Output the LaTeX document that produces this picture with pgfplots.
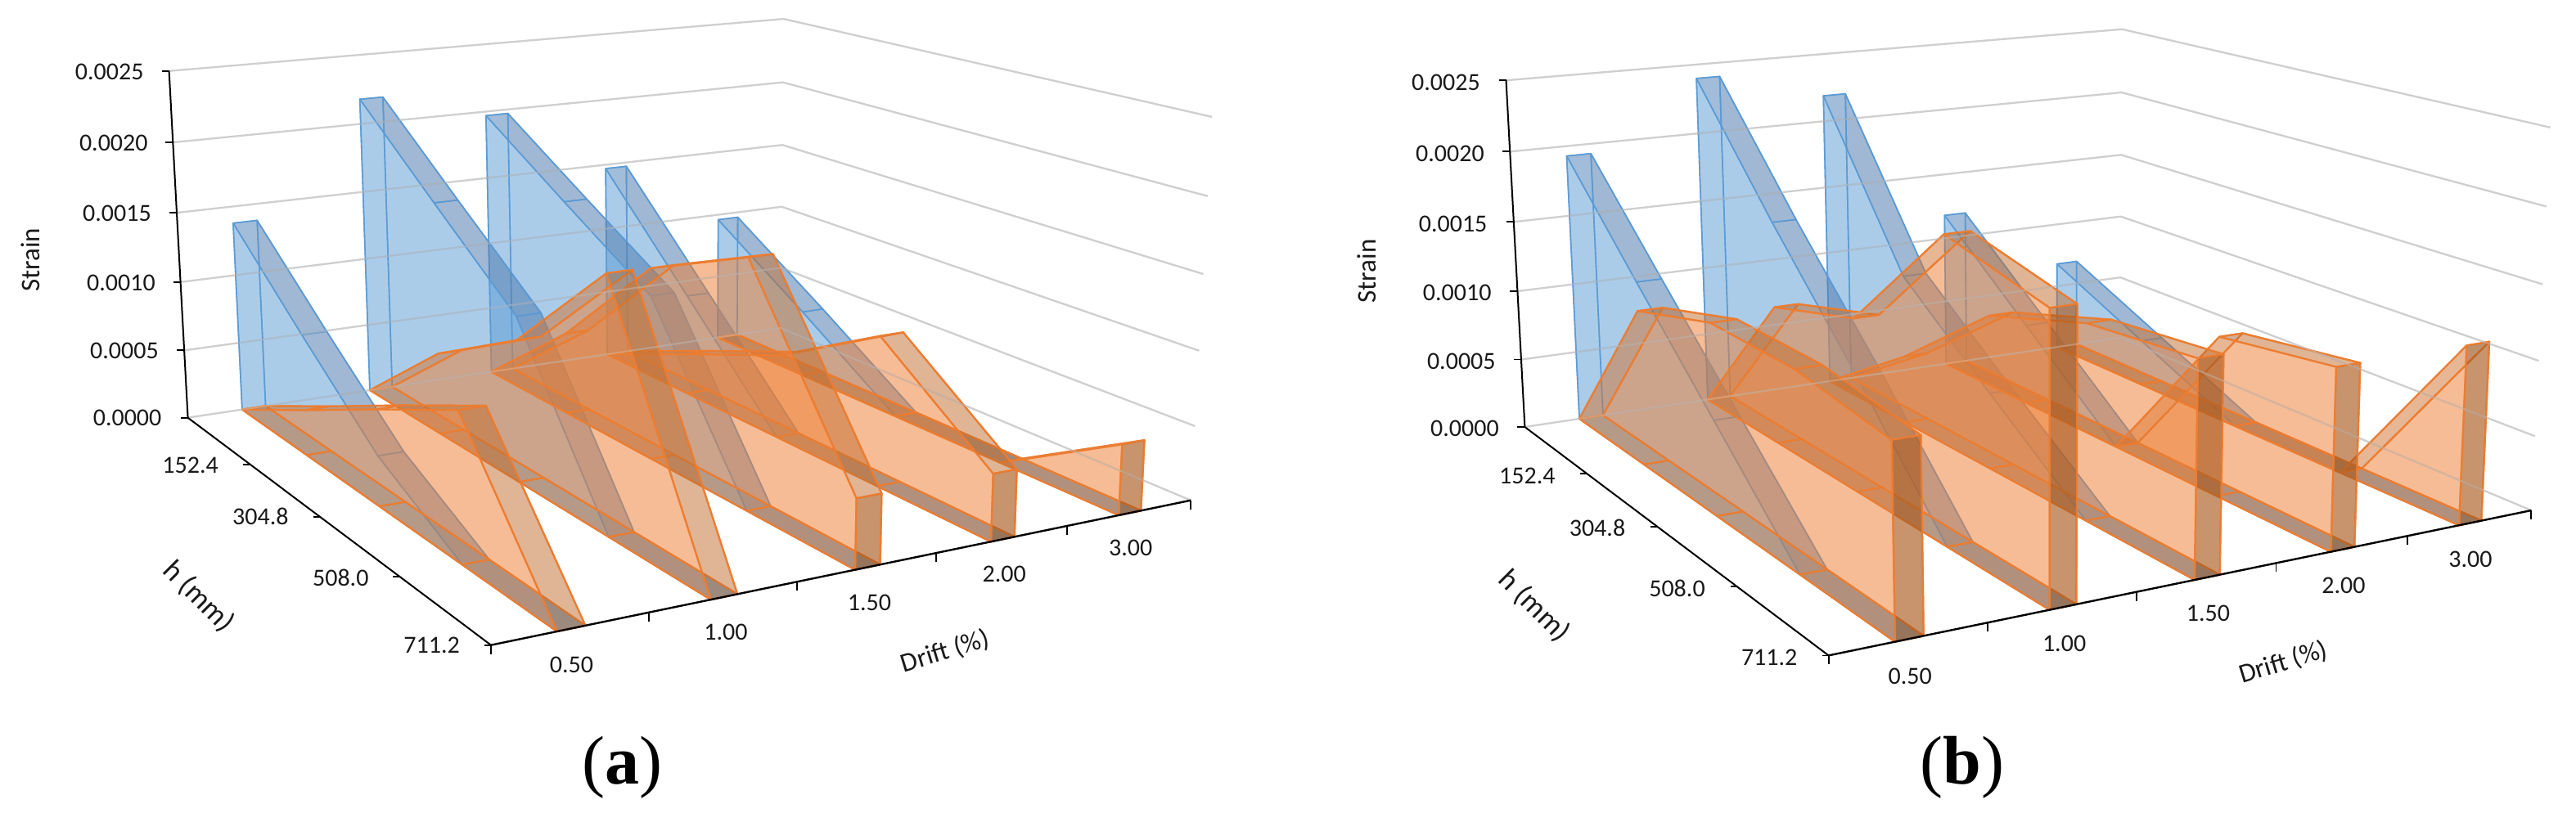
\documentclass[border=0pt]{standalone}
\usepackage{pgfplots}
\pgfplotsset{compat=1.18}
\usepackage{fontspec}
\setmainfont{Carlito}
\newfontfamily\capfont{Liberation Serif}
\definecolor{bl}{HTML}{5B9BD5}
\definecolor{or}{HTML}{ED7D31}
\definecolor{gl}{HTML}{D9D9D9}
\tikzset{
 blu/.style={draw=bl,draw opacity=.9,line width=.8pt,line join=round},
 org/.style={draw=or,draw opacity=.88,line width=1.1pt,line join=round},
 bface/.style={blu,fill=bl,fill opacity=.3},
 btop/.style={blu,fill={rgb,255:red,75;green,108;blue,154},fill opacity=.35},
 bbot/.style={blu,fill={rgb,255:red,110;green,125;blue,140},fill opacity=.35},
 bcap/.style={blu,fill={rgb,255:red,65;green,113;blue,169},fill opacity=.5},
 oface/.style={org,fill=or,fill opacity=.3},
 otop/.style={org,fill={rgb,255:red,167;green,102;blue,48},fill opacity=.3},
 obot/.style={org,fill={rgb,255:red,140;green,120;blue,100},fill opacity=.35},
 ocap/.style={org,fill={rgb,255:red,151;green,81;blue,26},fill opacity=.5},
 lab/.style={font=\fontsize{15}{18}\selectfont,text=black!90,inner sep=0pt},
 ttl/.style={font=\fontsize{16.5}{18}\selectfont,text=black!90,inner sep=0pt},
 ttlh/.style={font=\fontsize{18}{20}\selectfont,text=black!90,inner sep=0pt},
 captxt/.style={font=\capfont\fontsize{42}{46}\selectfont,text=black,inner sep=0pt},
}
% u: position along Drift (0..1), v: along h (0..1), s: strain. The projection is the chart's perspective.
\def\PX{(\Pa*\thisrow{u}+\Pb*\thisrow{v}+\Pc+\Pp*\thisrow{s}/0.0025)/(\Pg*\thisrow{u}+\Ph*\thisrow{v}+1+\Pr*\thisrow{s}/0.0025)}
\def\PY{(\Pd*\thisrow{u}+\Pe*\thisrow{v}+\Pf+\Pq*\thisrow{s}/0.0025)/(\Pg*\thisrow{u}+\Ph*\thisrow{v}+1+\Pr*\thisrow{s}/0.0025)}
\newcommand{\poly}[2]{\addplot[#1] table[row sep=\\,x expr=\PX,y expr=\PY]{u v s\\#2}--cycle;}
\newcommand{\lin}[2]{\addplot[#1] table[row sep=\\,x expr=\PX,y expr=\PY]{u v s\\#2};}
\newcommand{\tck}[5]{\addplot[black,line width=.9pt] table[row sep=\\,x expr=\PX+\thisrow{dx},y expr=\PY+\thisrow{dy}]{u v s dx dy\\#1 #2 #3 0 0\\#1 #2 #3 #4 #5\\};}
\newcommand{\seg}[7]{\poly{#7}{#1 #3 #5\\#2 #3 #5\\#2 #4 #6\\#1 #4 #6\\}}
% u1,u2, five strains at h positions, style
\newcommand{\ribbon}[8]{%
 \seg{#1}{#2}{0}{0.25}{0}{0}{#8bot}\seg{#1}{#2}{0.25}{0.5}{0}{0}{#8bot}%
 \seg{#1}{#2}{0.5}{0.75}{0}{0}{#8bot}\seg{#1}{#2}{0.75}{1}{0}{0}{#8bot}%
 \poly{#8face}{#2 0 0\\#2 0 #3\\#2 0.25 #4\\#2 0.5 #5\\#2 0.75 #6\\#2 1 #7\\#2 1 0\\}%
 \seg{#1}{#2}{0}{0.25}{#3}{#4}{#8top}\seg{#1}{#2}{0.25}{0.5}{#4}{#5}{#8top}%
 \seg{#1}{#2}{0.5}{0.75}{#5}{#6}{#8top}\seg{#1}{#2}{0.75}{1}{#6}{#7}{#8top}%
 \poly{#8face}{#1 0 0\\#2 0 0\\#2 0 #3\\#1 0 #3\\}%
 \poly{#8cap}{#1 1 0\\#2 1 0\\#2 1 #7\\#1 1 #7\\}%
 \poly{#8face}{#1 0 0\\#1 0 #3\\#1 0.25 #4\\#1 0.5 #5\\#1 0.75 #6\\#1 1 #7\\#1 1 0\\}%
}
\newcommand{\gridlines}[1]{%
 \lin{#1}{0 0 0\\1 0 0\\1 1 0\\}\lin{#1}{0 0 0.0005\\1 0 0.0005\\1 1 0.0005\\}%
 \lin{#1}{0 0 0.0010\\1 0 0.0010\\1 1 0.0010\\}\lin{#1}{0 0 0.0015\\1 0 0.0015\\1 1 0.0015\\}%
 \lin{#1}{0 0 0.0020\\1 0 0.0020\\1 1 0.0020\\}\lin{#1}{0 0 0.0025\\1 0 0.0025\\1 1 0.0025\\}%
}
\newcommand{\frameaxes}{%
 \lin{black,line width=1pt}{0 0 0\\0 0 0.0025\\}%
 \lin{black,line width=1pt}{0 0 0\\0 1 0\\}%
 \lin{black,line width=1.2pt}{0 1 0\\1 1 0\\}%
 \tck{0}{0}{0}{-9}{0}\tck{0}{0}{0.0005}{-9}{0}\tck{0}{0}{0.0010}{-9}{0}\tck{0}{0}{0.0015}{-9}{0}\tck{0}{0}{0.0020}{-9}{0}\tck{0}{0}{0.0025}{-9}{0}%
 \tck{0}{0.25}{0}{-8}{0}\tck{0}{0.5}{0}{-8}{0}\tck{0}{0.75}{0}{-8}{0}\tck{0}{1}{0}{-8}{0}%
 \tck{0}{1}{0}{0}{11}\tck{0.2}{1}{0}{0}{11}\tck{0.4}{1}{0}{0}{11}\tck{0.6}{1}{0}{0}{11}\tck{0.8}{1}{0}{0}{11}\tck{1}{1}{0}{0}{11}%
}
\pgfplotsset{panel/.style={scale only axis,width=787pt,height=502.5pt,ymin=0,ymax=1005,y dir=reverse,axis lines=none,clip=false,no markers}}
\begin{document}
\begin{tikzpicture}[x=1pt,y=1pt]
\path[use as bounding box] (0,0) rectangle (1574,502.5);
% ---------- panel (a)
\def\Pa{846.4}\def\Pb{233.6}\def\Pc{229.6}\def\Pp{-30.47}
\def\Pd{-58.42}\def\Pe{98.17}\def\Pf{510.7}\def\Pq{-427.04}
\def\Pg{0.12788}\def\Ph{-0.228}\def\Pr{-0.03617}
\begin{axis}[panel,at={(0,0)},xmin=0,xmax=1574]
\gridlines{gl,line width=1.1pt}
\ribbon{0.882}{0.918}{0.00096}{0.00049}{0}{0}{0}{b}
\ribbon{0.682}{0.718}{0.00147}{0.00074}{0}{0}{0}{b}
\ribbon{0.482}{0.518}{0.00197}{0.00155}{0.00114}{0}{0}{b}
\ribbon{0.282}{0.318}{0.00218}{0.00165}{0.00113}{0}{0}{b}
\ribbon{0.082}{0.118}{0.00138}{0.00085}{0.00034}{0}{0}{b}
\ribbon{0.882}{0.918}{0}{0}{0}{0}{0.00047}{o}
\ribbon{0.682}{0.718}{0}{0.00030}{0.00059}{0.00102}{0.00044}{o}
\ribbon{0.482}{0.518}{0}{0.00059}{0.00133}{0.00166}{0.00045}{o}
\ribbon{0.282}{0.318}{0}{0.00058}{0.00097}{0.00168}{0}{o}
\ribbon{0.082}{0.118}{0}{0.00032}{0.00065}{0.00097}{0}{o}
\gridlines{gl!90!black,line width=1.1pt,opacity=.45}
\frameaxes
\node[lab] at (axis cs:133.7,87.5) {0.0025};
\node[lab] at (axis cs:138.8,175) {0.0020};
\node[lab] at (axis cs:142.9,260.7) {0.0015};
\node[lab] at (axis cs:148,345.7) {0.0010};
\node[lab] at (axis cs:152,428.6) {0.0005};
\node[lab] at (axis cs:155.6,510.7) {0.0000};
\node[ttl,rotate=90] at (axis cs:37.2,317.8) {Strain};
\node[lab] at (axis cs:232.6,568.7) {152.4};
\node[lab] at (axis cs:318.4,631.3) {304.8};
\node[lab] at (axis cs:416.3,706) {508.0};
\node[lab] at (axis cs:527.6,788.7) {711.2};
\node[ttlh,rotate=-45] at (axis cs:242.9,729.4) {h (mm)};
\node[lab] at (axis cs:698.5,813) {0.50};
\node[lab] at (axis cs:887,772.7) {1.00};
\node[lab] at (axis cs:1062.5,736.7) {1.50};
\node[lab] at (axis cs:1227.2,702.3) {2.00};
\node[lab] at (axis cs:1381.7,670) {3.00};
\node[ttl,rotate=17] at (axis cs:1154.9,796.7) {Drift (\%)};
\node[captxt] at (axis cs:760.7,938.7) {({\bfseries a})};
\end{axis}
% ---------- panel (b)
\def\Pa{1064.11}\def\Pb{-140.52}\def\Pc{1863.4}\def\Pp{-86.44}
\def\Pd{-55.65}\def\Pe{95.86}\def\Pf{522}\def\Pq{-427.18}
\def\Pg{0.13001}\def\Ph{-0.22903}\def\Pr{-0.03447}
\begin{axis}[panel,at={(787pt,0)},xmin=1574,xmax=3148]
\gridlines{gl,line width=1.1pt}
\ribbon{0.882}{0.918}{0.00068}{0.00034}{0}{0}{0}{b}
\ribbon{0.682}{0.718}{0.00118}{0.00059}{0}{0}{0}{b}
\ribbon{0.482}{0.518}{0.00219}{0.00108}{0.00053}{0}{0}{b}
\ribbon{0.282}{0.318}{0.00240}{0.00158}{0.00081}{0}{0}{b}
\ribbon{0.082}{0.118}{0.00193}{0.00128}{0.00064}{0}{0}{b}
\ribbon{0.882}{0.918}{0}{0}{0}{0}{0.00118}{o}
\ribbon{0.682}{0.718}{0}{0}{0}{0.00108}{0.00118}{o}
\ribbon{0.482}{0.518}{0}{0.00049}{0.00107}{0.00130}{0.00137}{o}
\ribbon{0.282}{0.318}{0}{0.00098}{0.00118}{0.00198}{0.00180}{o}
\ribbon{0.082}{0.118}{0}{0.00108}{0.00128}{0.00128}{0.00118}{o}
\gridlines{gl!90!black,line width=1.1pt,opacity=.45}
\frameaxes
\node[lab] at (axis cs:1767,100.7) {0.0025};
\node[lab] at (axis cs:1772,187.5) {0.0020};
\node[lab] at (axis cs:1775.6,274.3) {0.0015};
\node[lab] at (axis cs:1780.7,358.2) {0.0010};
\node[lab] at (axis cs:1785.8,441.8) {0.0005};
\node[lab] at (axis cs:1789.9,523.9) {0.0000};
\node[ttl,rotate=90] at (axis cs:1670,331.4) {Strain};
\node[lab] at (axis cs:1866.3,582.1) {152.4};
\node[lab] at (axis cs:1952,645.7) {304.8};
\node[lab] at (axis cs:2049.5,719.4) {508.0};
\node[lab] at (axis cs:2162.2,804) {711.2};
\node[ttlh,rotate=-45] at (axis cs:1875,741) {h (mm)};
\node[lab] at (axis cs:2334.2,826.5) {0.50};
\node[lab] at (axis cs:2522.6,787.3) {1.00};
\node[lab] at (axis cs:2698.4,750) {1.50};
\node[lab] at (axis cs:2864,716) {2.00};
\node[lab] at (axis cs:3019,684.3) {3.00};
\node[ttl,rotate=17] at (axis cs:2790.6,810) {Drift (\%)};
\node[captxt] at (axis cs:2398,938.7) {({\bfseries b})};
\end{axis}
\end{tikzpicture}
\end{document}
